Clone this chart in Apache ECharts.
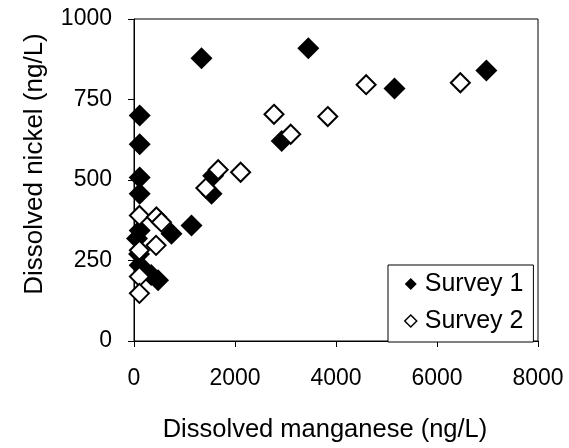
<!DOCTYPE html>
<html>
<head>
<meta charset="utf-8">
<script src="https://cdn.jsdelivr.net/npm/echarts@6/dist/echarts.min.js"></script>
<style>html,body{margin:0;padding:0;background:#fff;}#c{width:569px;height:448px;}</style>
</head>
<body>
<div id="c"></div>
<script>
var seriesNames = ['Survey 1', 'Survey 2'];
var survey1 = [
  [113,700],[113,611],[113,508],[113,457],[113,343],[60,318],[100,270],[113,235],
  [340,205],[476,189],[742,333],[1139,359],[1337,878],[1536,457],[1567,513],
  [2925,621],[3452,909],[5159,784],[6978,840]
];
var survey2 = [
  [107,390],[444,385],[543,369],[437,297],[107,282],[107,200],[107,148],
  [1423,475],[1667,532],[2111,524],[2772,704],[3103,642],[3837,697],[4597,796],[6462,802]
];
var xTitle = 'Dissolved manganese (ng/L)';
var yTitle = 'Dissolved nickel (ng/L)';

var font = 'Liberation Sans, Arial, sans-serif';
var plain = function (v) { return String(v); };
var chart = echarts.init(document.getElementById('c'), null, {renderer: 'canvas'});
chart.setOption({
  animation: false,
  backgroundColor: '#fff',
  grid: {left: 134, right: 31, top: 19, bottom: 105, show: true, borderColor: '#000', borderWidth: 1},
  xAxis: {
    type: 'value', min: 0, max: 8000, interval: 2000,
    name: xTitle, nameLocation: 'middle', nameGap: 76,
    nameTextStyle: {fontFamily: font, fontSize: 25.5, color: '#000', padding: [0, 22, 0, 0]},
    axisLine: {show: true, lineStyle: {color: '#000', width: 1}},
    axisTick: {show: true, inside: false, length: 6, lineStyle: {color: '#000'}},
    axisLabel: {fontFamily: font, fontSize: 23, color: '#000', margin: 26, formatter: plain},
    splitLine: {show: false}
  },
  yAxis: {
    type: 'value', min: 0, max: 1000, interval: 250,
    name: yTitle, nameLocation: 'middle', nameGap: 86,
    nameTextStyle: {fontFamily: font, fontSize: 26, color: '#000', padding: [0, 0, 0, 32]},
    axisLine: {show: true, lineStyle: {color: '#000', width: 1}},
    axisTick: {show: true, inside: false, length: 6, lineStyle: {color: '#000'}},
    axisLabel: {fontFamily: font, fontSize: 23, color: '#000', margin: 22, formatter: plain},
    splitLine: {show: false}
  },
  legend: {
    orient: 'vertical', left: 388, top: 265,
    width: 150,
    backgroundColor: '#fff', borderColor: '#000', borderWidth: 1,
    padding: [6, 10, 8, 16],
    itemWidth: 12, itemHeight: 12, itemGap: 11,
    textStyle: {fontFamily: font, fontSize: 25, color: '#000', lineHeight: 26, padding: [0, 0, 0, 3]},
    data: [
      {name: seriesNames[0], icon: 'diamond', itemStyle: {color: '#000', borderWidth: 0}},
      {name: seriesNames[1], icon: 'diamond', itemStyle: {color: '#fff', borderColor: '#000', borderWidth: 1.5}}
    ]
  },
  series: [
    {
      name: seriesNames[0], type: 'scatter', data: survey1,
      symbol: 'diamond', symbolSize: 22,
      itemStyle: {color: '#000', borderWidth: 0, opacity: 1}
    },
    {
      name: seriesNames[1], type: 'scatter', data: survey2,
      symbol: 'diamond', symbolSize: 19,
      itemStyle: {color: '#fff', borderColor: '#000', borderWidth: 2, opacity: 1}
    }
  ]
});
</script>
</body>
</html>
